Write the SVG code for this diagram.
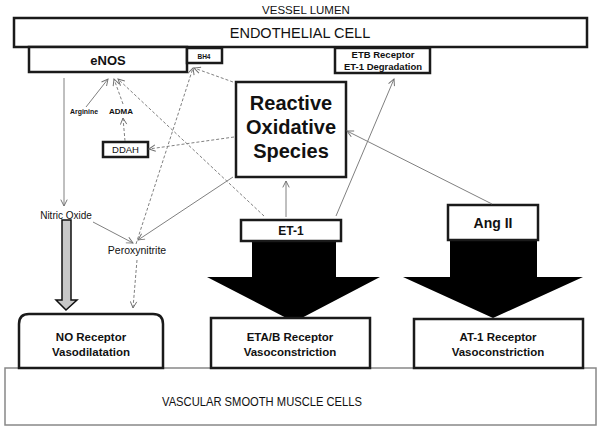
<svg xmlns="http://www.w3.org/2000/svg" width="600" height="430" viewBox="0 0 600 430">
<style>
.box{fill:#fff;stroke:#1a1a1a;stroke-width:2.5}
.b{font-family:"Liberation Sans",Arial,sans-serif;font-weight:bold;fill:#111;text-anchor:middle}
.n{font-family:"Liberation Sans",Arial,sans-serif;fill:#111;text-anchor:middle}
.ln{fill:none;stroke:#808080;stroke-width:1}
.dl{fill:none;stroke:#808080;stroke-width:1;stroke-dasharray:3,2}
</style>
<defs>
<marker id="ar" viewBox="0 0 10 10" refX="9" refY="5" markerWidth="8" markerHeight="8" orient="auto" markerUnits="userSpaceOnUse">
<path d="M1,1 L9,5 L1,9" fill="none" stroke="#707070" stroke-width="1.2"/>
</marker>
</defs>

<text class="n" x="306" y="14" font-size="11.5">VESSEL LUMEN</text>

<g id="vsmc">
<rect x="5" y="368" width="591" height="57" fill="#fff" stroke="#888" stroke-width="1.5"/>
<text class="n" x="262" y="406" font-size="13" textLength="200" lengthAdjust="spacingAndGlyphs" fill="#222">VASCULAR SMOOTH MUSCLE CELLS</text>
</g>

<g id="endothelial">
<rect class="box" x="14" y="18" width="573" height="29"/>
<text class="n" x="300" y="38" font-size="14.5">ENDOTHELIAL CELL</text>
</g>

<g id="enos">
<rect class="box" x="29" y="47" width="158" height="25"/>
<text class="b" x="108" y="65" font-size="13">eNOS</text>
</g>

<g id="bh4">
<rect class="box" x="187" y="48" width="35" height="15"/>
<text class="b" x="204" y="58.5" font-size="6.5">BH4</text>
</g>

<g id="etb">
<rect class="box" x="335" y="48" width="95" height="25"/>
<text class="b" x="383" y="58" font-size="9.5">ETB Receptor</text>
<text class="b" x="383" y="70" font-size="9.5">ET-1 Degradation</text>
</g>

<g id="ros">
<rect class="box" x="236" y="82" width="110" height="95"/>
<text class="b" x="291" y="110" font-size="20">Reactive</text>
<text class="b" x="291" y="134" font-size="20">Oxidative</text>
<text class="b" x="291" y="158" font-size="20">Species</text>
</g>

<g id="arginine">
<text class="b" x="84" y="114" font-size="7.5" textLength="28" lengthAdjust="spacingAndGlyphs">Arginine</text>
</g>
<g id="adma">
<text class="b" x="121" y="114" font-size="8">ADMA</text>
</g>

<g id="ddah">
<rect class="box" x="103" y="142" width="45" height="15"/>
<text class="n" x="125.5" y="153" font-size="9.5">DDAH</text>
</g>

<g id="nitric-oxide">
<text class="n" x="66" y="219" font-size="10">Nitric Oxide</text>
</g>

<g id="peroxynitrite">
<text class="n" x="137" y="254" font-size="10.5">Peroxynitrite</text>
</g>

<g id="et1-arrow">
<polygon points="252,241 336,241 336,277 380,277 294,322 207,277 252,277" fill="#000"/>
</g>
<g id="ang2-arrow">
<polygon points="450,240 537,240 537,277 583,277 493,318 403,277 450,277" fill="#000"/>
</g>

<g id="no-arrow">
<polygon points="62,220 71,220 71,300 77,300 66,310 56,300 62,300" fill="#c8c8c8" stroke="#111" stroke-width="1.5"/>
</g>

<g id="et1">
<rect class="box" x="241" y="220" width="100" height="21"/>
<text class="b" x="291" y="235" font-size="12">ET-1</text>
</g>

<g id="ang2">
<rect class="box" x="448" y="205" width="90" height="35"/>
<text class="b" x="493" y="228" font-size="14">Ang II</text>
</g>

<g id="no-receptor">
<path class="box" d="M19,368 V324 Q19,314 29,314 H153 Q163,314 163,324 V368 Z"/>
<text class="b" x="91" y="341" font-size="11.5">NO Receptor</text>
<text class="b" x="91" y="356" font-size="11.5">Vasodilatation</text>
</g>

<g id="etab-receptor">
<rect class="box" x="211" y="318" width="159" height="50"/>
<text class="b" x="290" y="341" font-size="11.5">ETA/B Receptor</text>
<text class="b" x="290" y="356" font-size="11.5">Vasoconstriction</text>
</g>

<g id="at1-receptor">
<rect class="box" x="414" y="319" width="169" height="49"/>
<text class="b" x="498" y="341" font-size="11.5">AT-1 Receptor</text>
<text class="b" x="498" y="356" font-size="11.5">Vasoconstriction</text>
</g>

<g id="connectors">
<line class="ln" x1="64" y1="78" x2="64" y2="206" marker-end="url(#ar)"/>
<line class="ln" x1="86" y1="107" x2="108" y2="79" marker-end="url(#ar)"/>
<line class="dl" x1="123" y1="104" x2="114" y2="79" marker-end="url(#ar)"/>
<line class="dl" x1="125" y1="141" x2="123" y2="118" marker-end="url(#ar)"/>
<line class="dl" x1="234" y1="137" x2="149" y2="149" marker-end="url(#ar)"/>
<line class="dl" x1="233" y1="82" x2="194" y2="68" marker-end="url(#ar)"/>
<line class="dl" x1="264" y1="216" x2="118" y2="79" marker-end="url(#ar)"/>
<line class="dl" x1="136" y1="244" x2="193" y2="68" marker-end="url(#ar)"/>
<line class="dl" x1="137" y1="260" x2="133" y2="308" marker-end="url(#ar)"/>
<line class="ln" x1="233" y1="177" x2="138" y2="240" marker-end="url(#ar)"/>
<line class="ln" x1="93" y1="222" x2="133" y2="243" marker-end="url(#ar)"/>
<line class="ln" x1="286" y1="217" x2="286" y2="181" marker-end="url(#ar)"/>
<line class="ln" x1="336" y1="216" x2="394" y2="79" marker-end="url(#ar)"/>
<line class="ln" x1="492" y1="204" x2="347" y2="131" marker-end="url(#ar)"/>
</g>
</svg>
